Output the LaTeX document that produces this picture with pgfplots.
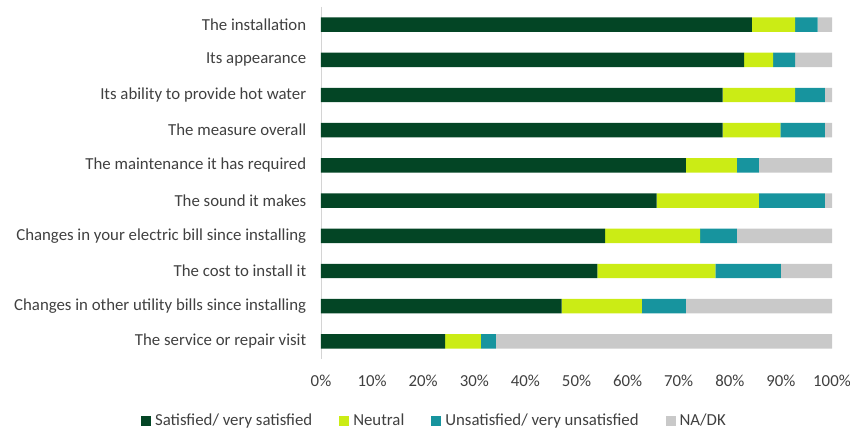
\documentclass[border=0pt]{standalone}
\usepackage{fontspec}
\setmainfont{Carlito}
\usepackage{pgfplots}
\pgfplotsset{compat=1.18}
\definecolor{satis}{HTML}{034525}
\definecolor{neutral}{HTML}{CBEC15}
\definecolor{unsat}{HTML}{17949E}
\definecolor{nadk}{HTML}{C9C9C9}
\definecolor{txt}{HTML}{404040}

% rows from top (0) to bottom (9)
\pgfplotstableread{
y  sat   neu   uns   na
0  84.3  8.5   4.4   2.8
1  82.8  5.7   4.3   7.2
2  78.6  14.2  5.8   1.4
3  78.6  11.3  8.7   1.4
4  71.4  10.0  4.3   14.3
5  65.7  20.0  12.9  1.4
6  55.6  18.6  7.2   18.6
7  54.1  23.1  12.8  10.0
8  47.1  15.7  8.6   28.6
9  24.3  7.0   2.9   65.8
}\sat

\begin{document}
\fontsize{16.8}{20}\selectfont
\begin{tikzpicture}
\path[use as bounding box] (-321pt,-72pt) rectangle (529pt,359pt);
\begin{axis}[
  at={(0,0)}, anchor=south west,
  scale only axis,
  width=511pt, height=352pt,
  xbar stacked,
  bar width=0.41,
  y dir=reverse,
  xmin=0, xmax=100,
  ymin=-0.5, ymax=9.5,
  xtick={0,10,...,100},
  xticklabels={0\%,10\%,20\%,30\%,40\%,50\%,60\%,70\%,80\%,90\%,100\%},
  ytick={0,...,9},
  yticklabels={The installation,Its appearance,Its ability to provide hot water,The measure overall,The maintenance it has required,The sound it makes,Changes in your electric bill since installing,The cost to install it,Changes in other utility bills since installing,The service or repair visit},
  major tick length=0pt,
  axis lines*=left,
  x axis line style={draw=none},
  y axis line style={draw=nadk!80,line width=0.8pt,-},
  tick label style={text=txt,font=\fontsize{16.8}{20}\selectfont},
  yticklabel style={xshift=-9pt},
  xticklabel style={yshift=-10pt},
  legend columns=4,
  legend style={draw=none, at={(0.22,-0.176)}, anchor=center,
    text=txt, font=\fontsize{16.8}{20}\selectfont,
    nodes={inner sep=0pt},
    /tikz/every odd column/.append style={column sep=4pt},
    /tikz/every even column/.append style={column sep=27pt}},
  legend image code/.code={\fill[#1] (0pt,-5pt) rectangle (10pt,5pt);},
]
\addplot[fill=satis,draw=none] table[x=sat,y=y]{\sat};
\addplot[fill=neutral,draw=none] table[x=neu,y=y]{\sat};
\addplot[fill=unsat,draw=none] table[x=uns,y=y]{\sat};
\addplot[fill=nadk,draw=none] table[x=na,y=y]{\sat};
\legend{Satisfied/ very satisfied,Neutral,Unsatisfied/ very unsatisfied,NA/DK}
\end{axis}
\end{tikzpicture}
\end{document}
